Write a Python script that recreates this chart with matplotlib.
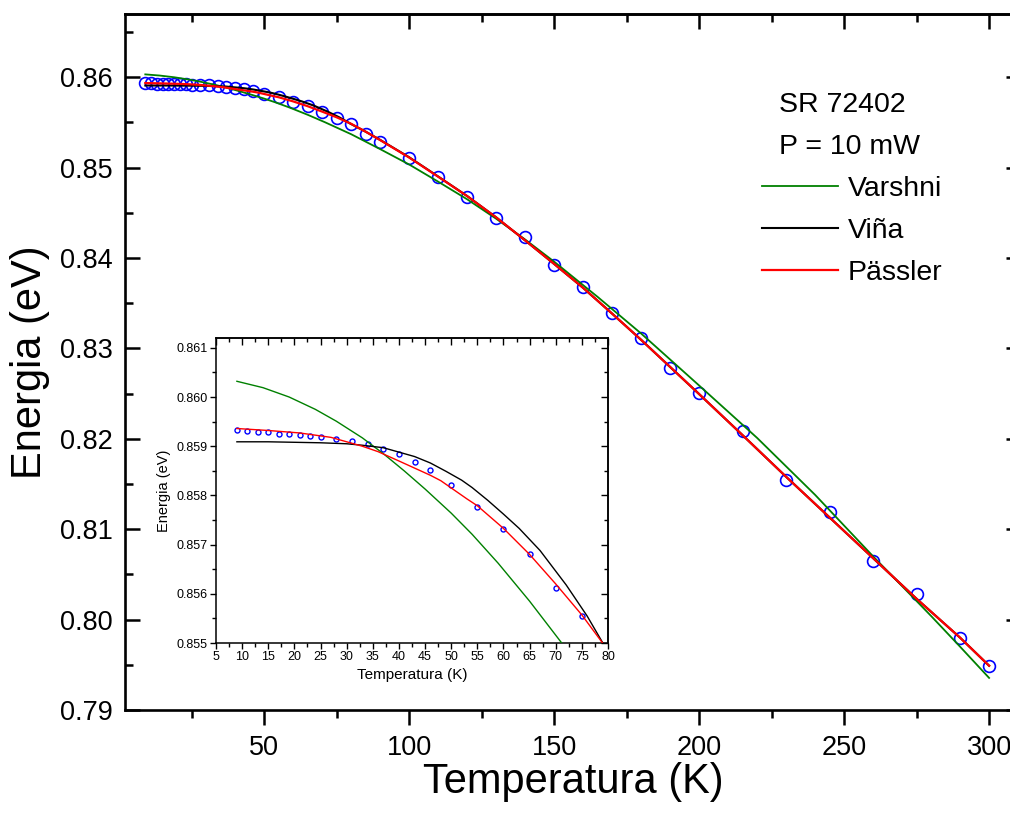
import matplotlib
matplotlib.use('Agg')
import matplotlib.pyplot as plt
from matplotlib.ticker import MultipleLocator, FormatStrFormatter

plt.rcParams['font.family'] = ['Liberation Sans', 'DejaVu Sans']

# medidas (circulos azules)
temp_exp = [9, 11, 13, 15, 17, 19, 21, 23, 25, 28, 31, 34, 37, 40, 43, 46, 50, 55, 60, 65,
            70, 75, 80, 85, 90, 100, 110, 120, 130, 140, 150, 160, 170, 180, 190, 200,
            215, 230, 245, 260, 275, 290, 300]
en_exp = [0.859325, 0.859318, 0.859290, 0.859284, 0.859258, 0.859243, 0.859223, 0.859203,
          0.859197, 0.859156, 0.859116, 0.859055, 0.858939, 0.858832, 0.858682, 0.858507,
          0.858203, 0.857763, 0.857310, 0.856815, 0.856120, 0.855545, 0.854800, 0.853770,
          0.852850, 0.851076, 0.848975, 0.846808, 0.844441, 0.842340, 0.839244, 0.836745,
          0.833936, 0.831104, 0.827853, 0.825089, 0.820821, 0.815435, 0.811900, 0.806480,
          0.802830, 0.798000, 0.794900]

# ajuste Varshni (verde)
temp_var = [9, 14, 19, 24, 28, 33, 37, 41, 45, 50, 54, 59, 65, 71, 80, 90, 100, 110, 120,
            130, 140, 150, 165, 180, 200, 220, 240, 260, 280, 290, 300]
en_var = [0.86032, 0.86019, 0.86000, 0.85975, 0.85951, 0.85917, 0.85885, 0.85850, 0.85813,
          0.85764, 0.85721, 0.85662, 0.85585, 0.85502, 0.85370, 0.85205, 0.85035, 0.84845,
          0.84650, 0.84435, 0.84205, 0.83960, 0.83570, 0.83165, 0.82590, 0.82010, 0.81380,
          0.80700, 0.80040, 0.79700, 0.79355]

# ajuste Viña (negro)
temp_vina = [9, 15, 20, 25, 30, 33, 37, 40, 43, 46, 49, 52, 54, 57, 60, 63, 67, 72, 76, 80,
             85, 90, 100, 110, 120, 130, 140, 150, 160, 170, 180, 190, 200, 215, 230, 245,
             260, 275, 290, 300]
en_vina = [0.85909, 0.85909, 0.85908, 0.85907, 0.85905, 0.85902, 0.85897, 0.85888, 0.85879,
           0.85866, 0.85849, 0.85831, 0.85816, 0.85790, 0.85762, 0.85733, 0.85688, 0.85618,
           0.85555, 0.85482, 0.85398, 0.85307, 0.85115, 0.84902, 0.84686, 0.84450, 0.84195,
           0.83935, 0.83670, 0.83385, 0.83095, 0.82795, 0.82495, 0.82040, 0.81580, 0.81130,
           0.80680, 0.80230, 0.79800, 0.79490]

# ajuste Pässler (rojo)
temp_pas = [9, 15, 21, 27, 33, 36, 40, 46, 48, 53, 55, 60, 65, 70, 75, 80, 85, 90, 100, 110,
            120, 130, 140, 150, 160, 170, 180, 190, 200, 215, 230, 245, 260, 275, 290, 300]
en_pas = [0.85936, 0.85932, 0.85927, 0.85918, 0.85900, 0.85889, 0.85870, 0.85841, 0.85830,
          0.85793, 0.85779, 0.85733, 0.85680, 0.85620, 0.85557, 0.85485, 0.85398, 0.85305,
          0.85112, 0.84900, 0.84685, 0.84450, 0.84195, 0.83935, 0.83670, 0.83385, 0.83095,
          0.82795, 0.82495, 0.82040, 0.81580, 0.81130, 0.80680, 0.80230, 0.79800, 0.79490]

W, H = 1010, 816
fig = plt.figure(figsize=(W / 100, H / 100), dpi=100)

# ---- grafico principal
ax = fig.add_axes([125 / W, 106 / H, 896 / W, 696 / H])
ax.plot(temp_exp, en_exp, 'o', ms=8.5, mfc='none', mec='#0000ff', mew=1.2, zorder=2)
ax.plot(temp_var, en_var, color='#008000', lw=1.3, zorder=3, label='Varshni')
ax.plot(temp_vina, en_vina, color='black', lw=1.5, zorder=4, label='Viña')
ax.plot(temp_pas, en_pas, color='#ff0000', lw=1.6, zorder=5, label='Pässler')

ax.set_xlim(2, 311)
ax.set_ylim(0.79, 0.867)
ax.xaxis.set_major_locator(MultipleLocator(50))
ax.xaxis.set_minor_locator(MultipleLocator(25))
ax.yaxis.set_major_locator(MultipleLocator(0.01))
ax.yaxis.set_minor_locator(MultipleLocator(0.005))
ax.yaxis.set_major_formatter(FormatStrFormatter('%.2f'))
for s in ax.spines.values():
    s.set_linewidth(1.9)
ax.tick_params(axis='x', which='both', direction='out', width=1.8, labelsize=19.5, pad=7)
ax.tick_params(axis='x', which='major', length=11)
ax.tick_params(axis='x', which='minor', length=6)
ax.tick_params(axis='y', which='both', direction='in', left=True, right=True,
               width=1.8, labelsize=19.5, pad=9)
ax.tick_params(axis='y', which='major', length=11)
ax.tick_params(axis='y', which='minor', length=6)
top = ax.secondary_xaxis('top')
top.xaxis.set_major_locator(MultipleLocator(50))
top.xaxis.set_minor_locator(MultipleLocator(25))
top.tick_params(axis='x', which='both', direction='in', width=1.8,
                labeltop=False, labelbottom=False)
top.tick_params(axis='x', which='major', length=11)
top.tick_params(axis='x', which='minor', length=6)
top.spines['top'].set_linewidth(1.9)

ax.set_xlabel('Temperatura (K)', fontsize=30, labelpad=1)
ax.set_ylabel('Energia (eV)', fontsize=30, labelpad=7)

fig.text(779 / W, 1 - 112 / H, 'SR 72402', fontsize=20.5, va='baseline')
fig.text(779 / W, 1 - 154 / H, 'P = 10 mW', fontsize=20.5, va='baseline')
ax.legend(loc='center left', bbox_to_anchor=(762 / W, 1 - 231 / H),
          bbox_transform=fig.transFigure, frameon=False, fontsize=20.5,
          handlelength=2.67, handletextpad=0.35, labelspacing=0.57,
          borderpad=0, borderaxespad=0)

# ---- recuadro (zoom bajas temperaturas)
ins = fig.add_axes([216 / W, 173 / H, 392 / W, 305 / H])
ins.plot(temp_exp, en_exp, 'o', ms=3.6, mfc='none', mec='#0000ff', mew=1.0, zorder=2)
ins.plot(temp_var, en_var, color='#008000', lw=1.0, zorder=3)
ins.plot(temp_vina, en_vina, color='black', lw=1.0, zorder=4)
ins.plot(temp_pas, en_pas, color='#ff0000', lw=1.0, zorder=5)
ins.set_xlim(5, 80)
ins.set_ylim(0.855, 0.8612)
ins.xaxis.set_major_locator(MultipleLocator(5))
ins.xaxis.set_minor_locator(MultipleLocator(2.5))
ins.yaxis.set_major_locator(MultipleLocator(0.001))
ins.yaxis.set_minor_locator(MultipleLocator(0.0005))
ins.yaxis.set_major_formatter(FormatStrFormatter('%.3f'))
for s in ins.spines.values():
    s.set_linewidth(1.1)
ins.tick_params(which='both', direction='out', width=1.0, labelsize=9, pad=2)
ins.tick_params(which='major', length=4)
ins.tick_params(which='minor', length=3)
itop = ins.secondary_xaxis('top')
itop.xaxis.set_major_locator(MultipleLocator(5))
itop.xaxis.set_minor_locator(MultipleLocator(2.5))
itop.tick_params(axis='x', which='both', direction='in', width=1.0,
                 labeltop=False, labelbottom=False)
itop.tick_params(axis='x', which='major', length=5)
itop.tick_params(axis='x', which='minor', length=3)
itop.spines['top'].set_linewidth(1.1)
iright = ins.secondary_yaxis('right')
iright.yaxis.set_major_locator(MultipleLocator(0.001))
iright.yaxis.set_minor_locator(MultipleLocator(0.0005))
iright.tick_params(axis='y', which='both', direction='in', width=1.0,
                   labelright=False, labelleft=False)
iright.tick_params(axis='y', which='major', length=5)
iright.tick_params(axis='y', which='minor', length=3)
iright.spines['right'].set_linewidth(1.1)
ins.set_xlabel('Temperatura (K)', fontsize=11, labelpad=3)
ins.set_ylabel('Energia (eV)', fontsize=10.5, labelpad=4)

fig.savefig('out.png', dpi=100)
